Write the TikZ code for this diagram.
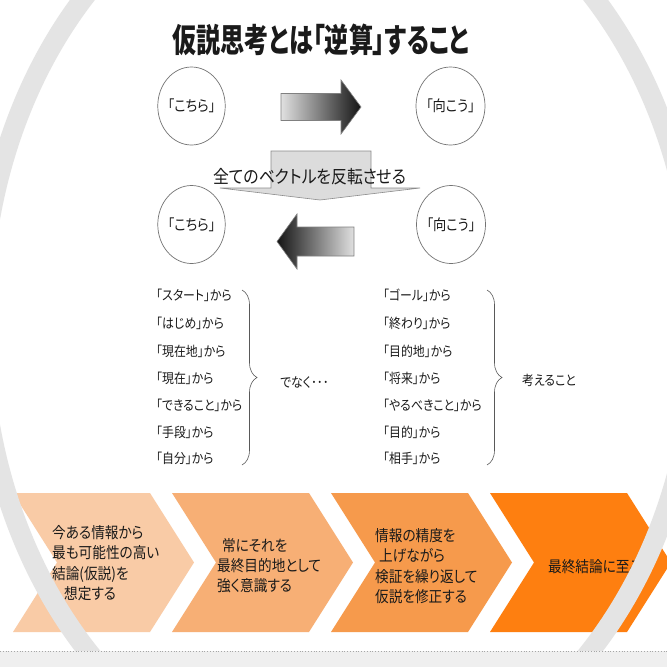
\documentclass[tikz,border=0pt]{standalone}
\usepackage{fontspec}
\usepackage{tikz}
\usetikzlibrary{shapes.geometric,decorations.pathreplacing,positioning}
\newfontfamily\jpfont[FakeStretch=0.88,RawFeature=+palt]{Noto Sans CJK JP}
\newfontfamily\jptitle[FakeStretch=0.73,RawFeature=+palt]{Noto Sans CJK JP}
\definecolor{inkBlack}{HTML}{1A1A1A}
\definecolor{ringGray}{HTML}{E4E4E4}
\definecolor{stripGray}{HTML}{EFEFEF}
\definecolor{bannerGray}{HTML}{DCDCDC}
\definecolor{chevA}{HTML}{F9CBA6}
\definecolor{chevB}{HTML}{F7AF75}
\definecolor{chevC}{HTML}{F69A4C}
\definecolor{chevD}{HTML}{FE7F10}
\tikzset{
  titletext/.style={inner sep=0pt, text=inkBlack, font=\jptitle\bfseries\fontsize{33}{36}\selectfont},
  place/.style={ellipse, draw=black!55, line width=0.7pt, fill=white, minimum width=61pt, minimum height=78pt, inner sep=0pt, text=inkBlack, font=\jpfont\fontsize{15}{18}\selectfont},
  blockarrow/.style={draw=black!50, line width=0.6pt},
  banner/.style={fill=bannerGray, draw=black!45, line width=0.6pt},
  bannertext/.style={inner sep=0pt, text=inkBlack, font=\jpfont\fontsize{18}{21}\selectfont},
  item/.style={anchor=west, inner sep=0pt, text=inkBlack, font=\jpfont\fontsize{13.5}{16}\selectfont},
  bracebig/.style={decorate, decoration={brace, amplitude=15pt}, draw=black!65, line width=0.6pt},
  chevron/.style={fill=#1, draw=none},
  chevtext/.style={anchor=west, align=left, inner sep=0pt, text=inkBlack, font=\jpfont\fontsize{15.5}{20.3}\selectfont},
}
\begin{document}
\begin{tikzpicture}[x=1pt,y=-1pt]
\useasboundingbox (0,0) rectangle (667,667);
\clip (0,0) rectangle (667,667);
\fill[white] (0,0) rectangle (667,667);

% title
\node[titletext] (title) at (321,40) {仮説思考とは「逆算」すること};

% forward direction
\node[place] (hereTop) at (191.5,106) {「こちら」};
\node[place] (thereTop) at (450.5,106) {「向こう」};
\shade[blockarrow, left color=black!12, middle color=black!40, right color=black!92]
  (281,93.5) -- (341,93.5) -- (341,80) -- (361,107) -- (341,134) -- (341,120.5) -- (281,120.5) -- cycle;

% reverse banner
\filldraw[banner] (271,151) -- (371,151) -- (371,188) -- (420,188) -- (320,200) -- (220,188) -- (271,188) -- cycle;
\node[bannertext] (flip) at (310,177) {全てのベクトルを反転させる};

% backward direction
\node[place] (hereBot) at (191.5,224.5) {「こちら」};
\node[place] (thereBot) at (451,224.5) {「向こう」};
\shade[blockarrow, left color=black!92, middle color=black!40, right color=black!12]
  (354,227) -- (297,227) -- (297,214) -- (277,241.5) -- (297,269) -- (297,256) -- (354,256) -- cycle;

% not from here ...
\node[item] (from1) at (156,295) {「スタート」から};
\node[item] (from2) at (156,323) {「はじめ」から};
\node[item] (from3) at (156,351) {「現在地」から};
\node[item] (from4) at (156,378) {「現在」から};
\node[item] (from5) at (156,405) {「できること」から};
\node[item] (from6) at (156,432) {「手段」から};
\node[item] (from7) at (156,458) {「自分」から};
\coordinate (braceFromTop) at (242,290);
\coordinate (braceFromBot) at (242,465);
\draw[bracebig] (braceFromTop) -- (braceFromBot);
\node[item] (denaku) at (280,383) {でなく･･･};

% ... but from there
\node[item] (to1) at (383,295) {「ゴール」から};
\node[item] (to2) at (383,323) {「終わり」から};
\node[item] (to3) at (383,351) {「目的地」から};
\node[item] (to4) at (383,378) {「将来」から};
\node[item] (to5) at (383,405) {「やるべきこと」から};
\node[item] (to6) at (383,432) {「目的」から};
\node[item] (to7) at (383,458) {「相手」から};
\coordinate (braceToTop) at (487,290);
\coordinate (braceToBot) at (487,465);
\draw[bracebig] (braceToTop) -- (braceToBot);
\node[item] (kangaeru) at (522,380) {考えること};

% process chevrons
\fill[chevron=chevA] (13,493) -- (150,493) -- (194,562.5) -- (150,632) -- (13,632) -- (57,562.5) -- cycle;
\fill[chevron=chevB] (172,493) -- (309,493) -- (353,562.5) -- (309,632) -- (172,632) -- (216,562.5) -- cycle;
\fill[chevron=chevC] (331,493) -- (468,493) -- (512,562.5) -- (468,632) -- (331,632) -- (375,562.5) -- cycle;
\fill[chevron=chevD] (490,493) -- (627,493) -- (671,562.5) -- (627,632) -- (490,632) -- (534,562.5) -- cycle;
\node[chevtext] (step1) at (52,563) {今ある情報から\\最も可能性の高い\\結論(仮説)を\\\hspace*{12pt}想定する};
\node[chevtext] (step2) at (217,565.5) {\hspace*{5pt}常にそれを\\最終目的地として\\強く意識する};
\node[chevtext] (step3) at (375,566) {情報の精度を\\\hspace*{4pt}上げながら\\検証を繰り返して\\仮説を修正する};
\node[chevtext] (step4) at (548,567) {最終結論に至る};

% background ring and footer strip
\draw[ringGray, line width=20pt] (339,322) ellipse [x radius=358, y radius=462];
\fill[stripGray] (0,651) rectangle (667,667);
\draw[black!35, dotted, line width=0.8pt] (0,651) -- (667,651);
\end{tikzpicture}
\end{document}
